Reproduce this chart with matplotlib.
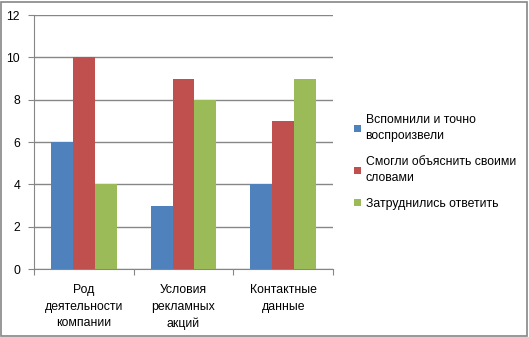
import matplotlib
matplotlib.use("Agg")
import matplotlib.pyplot as plt
from matplotlib.patches import Rectangle
import numpy as np

categories = ["Род\nдеятельности\nкомпании", "Условия\nрекламных\nакций", "Контактные\nданные"]
series_names = ["Вспомнили и точно\nвоспроизвели", "Смогли объяснить своими\nсловами", "Затруднились ответить"]
recalled = [6, 3, 4]
explained = [10, 9, 7]
struggled = [4, 8, 9]
colors = ["#4F81BD", "#C0504D", "#9BBB59"]
y_ticks = [0, 2, 4, 6, 8, 10, 12]

plt.rcParams["font.family"] = ["Liberation Sans", "DejaVu Sans"]
FS = 8.8

W, H = 529, 337
fig = plt.figure(figsize=(W / 100, H / 100), dpi=100)
fig.patch.set_facecolor("white")
fig.add_artist(Rectangle((1 / W, 1 / H), (W - 3) / W, (H - 3) / H, transform=fig.transFigure,
                         fill=False, edgecolor="#868686", linewidth=1.2))

ax = fig.add_axes([34 / W, 1 - 269 / H, (333 - 34) / W, (269 - 15) / H])
x = np.arange(len(categories))
width = 0.22
for i, (vals, c) in enumerate(zip([recalled, explained, struggled], colors)):
    ax.bar(x + (i - 1) * width, vals, width, color=c, label=series_names[i], zorder=3)

ax.set_xlim(-0.5, len(categories) - 0.5)
ax.set_ylim(0, 12)
ax.set_yticks(y_ticks)
ax.yaxis.grid(True, color="#868686", linewidth=1)
ax.set_axisbelow(True)
for s in ["top", "right"]:
    ax.spines[s].set_visible(False)
for s in ["left", "bottom"]:
    ax.spines[s].set_color("#868686")
ax.tick_params(axis="y", length=4, color="#868686", labelsize=FS, pad=6)
ax.set_xticks(np.arange(len(categories) + 1) - 0.5, minor=False)
ax.set_xticklabels([])
ax.tick_params(axis="x", length=4, color="#868686")
ax.set_xticks(x, minor=True)
ax.set_xticklabels(categories, minor=True, fontsize=FS, linespacing=1.5)
ax.tick_params(axis="x", which="minor", length=0, pad=11)

handles, labels = ax.get_legend_handles_labels()
leg = fig.legend(handles, labels, loc="upper left", bbox_to_anchor=(343 / W, 1 - 103 / H),
                 frameon=False, fontsize=FS, handlelength=0.6, handleheight=0.6,
                 handletextpad=0.35, labelspacing=1.1)
for t in leg.get_texts():
    t.set_linespacing(1.5)

fig.savefig("out.png", dpi=100)
